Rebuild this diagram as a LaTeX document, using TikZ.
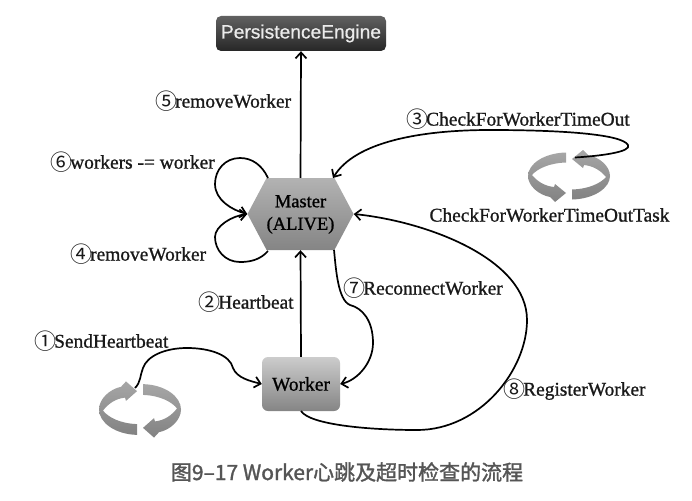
\documentclass[tikz,border=0pt]{standalone}
\usepackage{fontspec}
\setmainfont{Liberation Serif}
\newfontfamily\labfont[FakeBold=1]{Liberation Serif}
\newfontfamily\numfont{Noto Sans CJK SC}
\newfontfamily\headfont[FakeBold=0.6]{Liberation Sans}
\newfontfamily\capfont[FakeBold=1.5]{Noto Sans CJK SC}
\usetikzlibrary{arrows.meta,shapes.symbols}
\newcommand{\spinpiece}{%
  \path[top color=spinTop,bottom color=spinBot]
    (-3,-23.5) .. controls (-25,-23) and (-41,-12) .. (-41,0)
    .. controls (-41,10) and (-30,19) .. (-19,21)
    -- (-14,26) -- (-3,17) -- (-14,8) -- (-15,11)
    .. controls (-25,10) and (-32,5) .. (-37,-1)
    .. controls (-32,-7) and (-20,-13) .. (-3,-13.5) -- cycle;}
\newcommand{\spinner}{\spinpiece\begin{scope}[rotate=180]\spinpiece\end{scope}}
\newcommand{\n}[1]{\smash{\raisebox{-2pt}{\makebox[18pt][c]{\numfont\fontsize{22}{22}\selectfont #1}}}}
\definecolor{spinTop}{HTML}{A6A6A6}
\definecolor{spinBot}{HTML}{828282}
\definecolor{capCol}{HTML}{555555}
\tikzset{
  x=1pt,y=-1pt,
  conn/.style={line width=1.7pt,black,-{Straight Barb[length=6pt,width=11pt,line width=1.7pt]}},
  lab/.style={font=\labfont\fontsize{19.4}{21}\selectfont,inner sep=0pt,text=black!90},
}
\begin{document}
\begin{tikzpicture}
\useasboundingbox (0,0) rectangle (692,500);
% nodes
\node[rectangle,rounded corners=5pt,minimum width=170pt,minimum height=35pt,inner sep=0pt,
      top color=black!62,bottom color=black!85,text=white!92!black,
      font=\headfont\fontsize{19.2}{21}\selectfont] (pe) at (301,33.5) {PersistenceEngine};
\node[signal,signal to=east and west,signal pointer angle=124,minimum width=103pt,minimum height=72pt,
      inner sep=0pt,top color=black!30,bottom color=black!48,
      font=\labfont\fontsize{18.5}{22.5}\selectfont] (master) at (300.5,214)
      {\raisebox{-3pt}{\begin{tabular}{@{}c@{}}Master\\(ALIVE)\end{tabular}}};
\node[rectangle,rounded corners=6pt,minimum width=78pt,minimum height=54pt,inner sep=0pt,
      top color=black!20,bottom color=black!48,
      font=\labfont\fontsize{19.5}{21}\selectfont] (worker) at (301,384) {Worker};
% spinners
\begin{scope}[shift={(569,176)}]\spinner\end{scope}
\begin{scope}[shift={(140,409.5)},yscale=-1.08]\spinner\end{scope}
\coordinate (spinA) at (575,157.5);
\coordinate (spinB) at (135,388);
\coordinate (mNE) at (333,178);
\coordinate (mNW) at (268,178);
\coordinate (mSW) at (268,251);
\coordinate (mSE) at (334,250);
\coordinate (wS) at (301,411);
% connectors
\draw[conn] (master.north) -- (pe.south);
\draw[conn] (worker.north) -- (master.south);
\draw[conn] (mNW) .. controls (262,165) and (252,158) .. (240,158)
  .. controls (225,158) and (215,170) .. (215,184)
  .. controls (215,200) and (232,210) .. (master.west);
\draw[conn] (mSW) .. controls (260,260) and (250,262) .. (240,262)
  .. controls (225,262) and (215,250) .. (215,237)
  .. controls (215,226) and (232,216) .. (master.west);
\draw[conn] (spinA) .. controls (600,156) and (632,152) .. (628,145)
  .. controls (622,134) and (560,130) .. (490,130)
  .. controls (420,130) and (355,142) .. (mNE);
\draw[conn] (wS) .. controls (310,425) and (370,430) .. (417,430)
  .. controls (480,430) and (527,370) .. (527,320)
  .. controls (527,260) and (430,222) .. (master.east);
\draw[conn] (mSE) .. controls (336,270) and (338,300) .. (350,305)
  .. controls (362,308) and (373,320) .. (373,343)
  .. controls (373,362) and (358,380) .. (worker.east);
\draw[conn] (spinB) .. controls (141,382) and (140,375) .. (143,368)
  .. controls (147,356) and (165,348) .. (187,348)
  .. controls (210,348) and (230,355) .. (233,368)
  .. controls (237,378) and (250,381) .. (worker.west);
% labels
\node[lab,anchor=west] (l5) at (157,101) {\n{⑤}removeWorker};
\node[lab,anchor=west] (l6) at (52,162) {\n{⑥}workers -= worker};
\node[lab,anchor=west] (l4) at (72,254) {\n{④}removeWorker};
\node[lab,anchor=west] (l2) at (200,302) {\n{②}Heartbeat};
\node[lab,anchor=west] (l1) at (36,341) {\n{①}SendHeartbeat};
\node[lab,anchor=west] (l3) at (408,119) {\n{③}CheckForWorkerTimeOut};
\node[lab,anchor=west] (l7) at (345,288) {\n{⑦}ReconnectWorker};
\node[lab,anchor=west] (l8) at (505,391) {\n{⑧}RegisterWorker};
\node[lab] (task) at (549.5,215) {CheckForWorkerTimeOutTask};
\node[inner sep=0pt,text=capCol,font=\capfont\fontsize{21}{24}\selectfont] (cap) at (347,472) {图9–17 Worker心跳及超时检查的流程};
\end{tikzpicture}
\end{document}
